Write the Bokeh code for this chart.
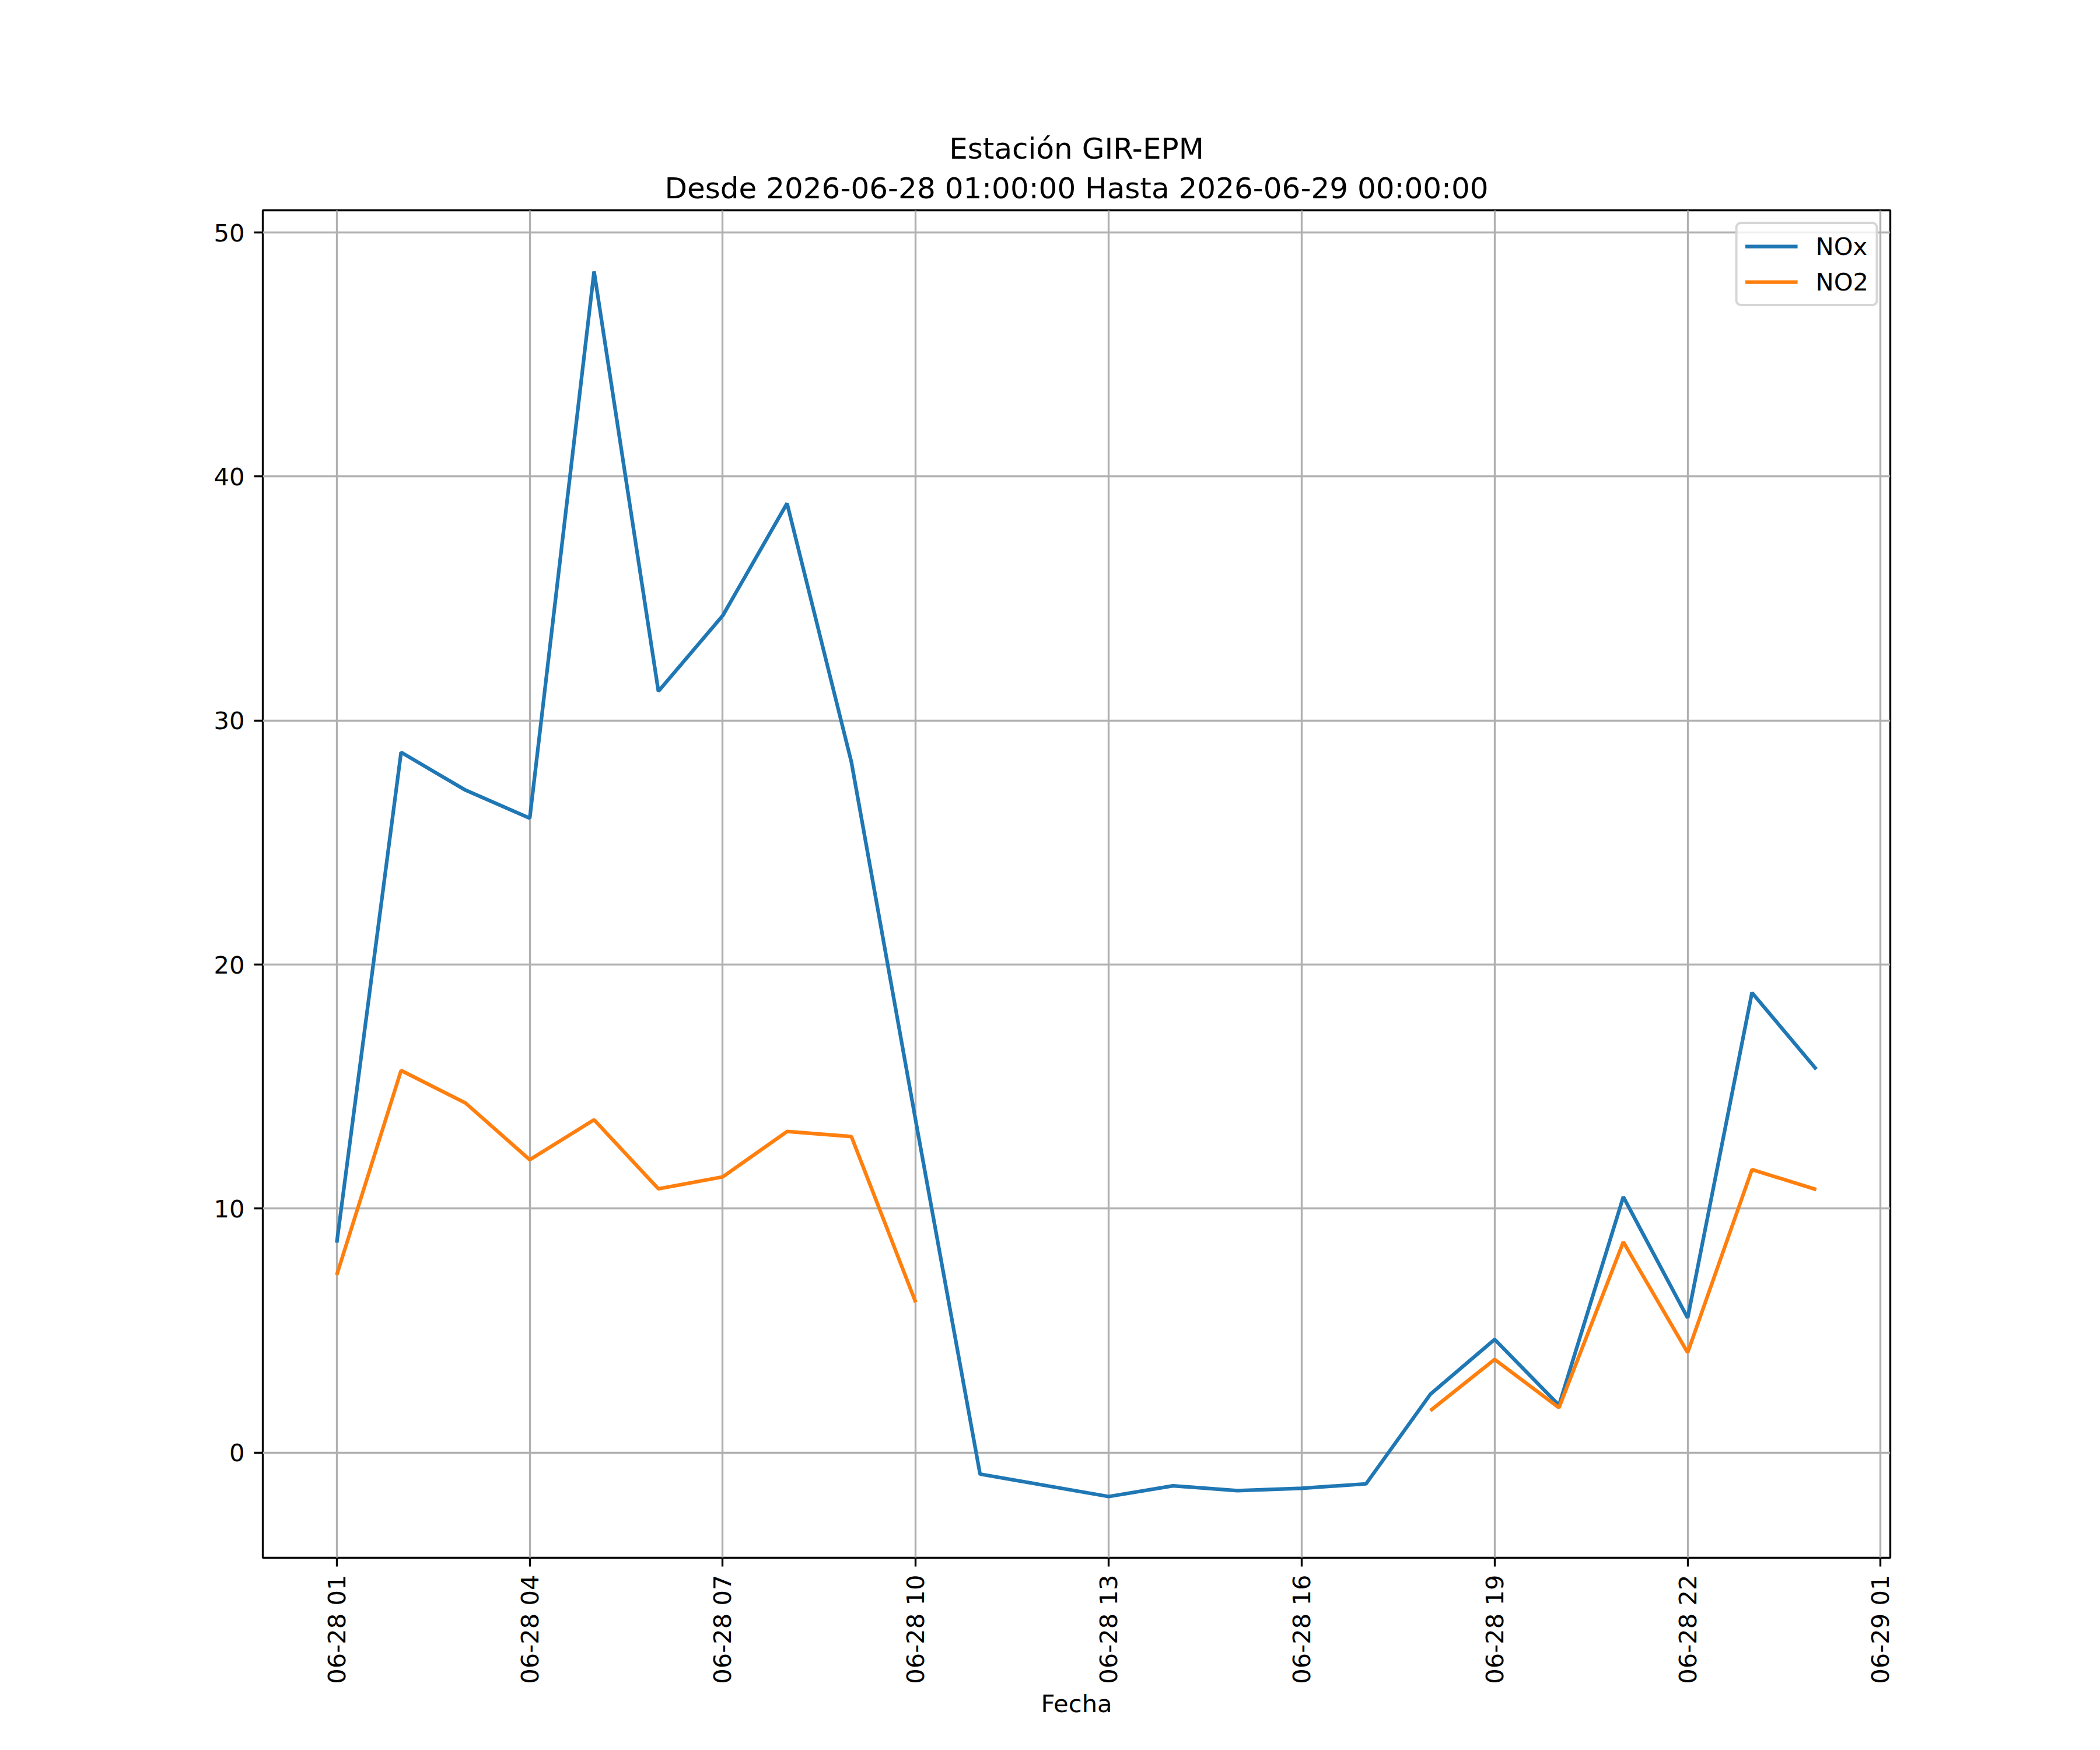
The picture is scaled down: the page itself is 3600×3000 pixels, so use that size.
import numpy as np
import pandas as pd
from bokeh.plotting import figure
from bokeh.models import (Range1d, FixedTicker, SingleIntervalTicker, DatetimeTickFormatter,
                          Title, Legend, LegendItem, ColumnDataSource)
from bokeh.embed import file_html
from bokeh.resources import INLINE

# ---------------- data ----------------
station = "GIR-EPM"
start = "2026-06-28 01:00:00"
end = "2026-06-29 00:00:00"
nox = [8.6, 28.7, 27.15, 26.0, 48.4, 31.2, 34.3, 38.9, 28.3, 13.6,
       -0.88, -1.34, -1.8, -1.36, -1.56, -1.46, -1.28,
       2.39, 4.64, 1.94, 10.48, 5.52, 18.85, 15.71]
no2 = [7.28, 15.66, 14.33, 12.0, 13.64, 10.81, 11.3, 13.16, 12.95, 6.16,
       np.nan, np.nan, np.nan, np.nan, np.nan, np.nan, np.nan,
       1.72, 3.82, 1.84, 8.63, 4.1, 11.6, 10.78]
series_names = ["NOx", "NO2"]
tick_start = "2026-06-28 01:00"
tick_end = "2026-06-29 01:00"
tick_step = "3h"
y_tick_step = 10
x_label = "Fecha"

FONT = "DejaVu Sans"
TICK_FS = "41.67px"
TITLE_FS = "50px"
C_NOX = "#1f77b4"
C_NO2 = "#ff7f0e"
LW = 6.25
GRID_W = 3.33

times = pd.date_range(start, end, freq="h")
x_ms = times.asi8 / 1e6
ticks_ms = pd.date_range(tick_start, tick_end, freq=tick_step).asi8 / 1e6

src = ColumnDataSource(dict(x=x_ms, nox=nox, no2=no2))

# matplotlib-like 5% margins
xmin, xmax = x_ms.min(), x_ms.max()
xm = 0.05 * (xmax - xmin)
allv = np.array(nox + [v for v in no2 if not np.isnan(v)])
ymin, ymax = allv.min(), allv.max()
ym = 0.05 * (ymax - ymin)

p = figure(x_axis_type="datetime",
           frame_width=2790, frame_height=2310,
           min_border_left=450, min_border_right=352,
           min_border_top=360, min_border_bottom=322,
           x_range=Range1d(xmin - xm, xmax + xm),
           y_range=Range1d(ymin - ym, ymax + ym),
           output_backend="svg", toolbar_location=None, title=None)

p.background_fill_color = "white"
p.border_fill_color = "white"
p.outline_line_color = "black"
p.outline_line_width = GRID_W
p.outline_line_alpha = 1.0

r1 = p.line("x", "nox", source=src, line_color=C_NOX, line_width=LW)
r2 = p.line("x", "no2", source=src, line_color=C_NO2, line_width=LW)

# titles
t2 = Title(text=f"Desde {start} Hasta {end}", align="center",
           text_font=FONT, text_font_size=TITLE_FS, text_font_style="normal",
           text_color="black", standoff=17)
p.add_layout(t2, "above")
t1 = Title(text=f"Estación {station}", align="center",
           text_font=FONT, text_font_size=TITLE_FS, text_font_style="normal",
           text_color="black", standoff=0)
p.add_layout(t1, "above")

# axes
p.xaxis.ticker = FixedTicker(ticks=list(ticks_ms))
fmt = "%m-%d %H"
p.xaxis.formatter = DatetimeTickFormatter(
    microseconds=fmt, milliseconds=fmt, seconds=fmt, minsec=fmt, minutes=fmt,
    hourmin=fmt, hours=fmt, days=fmt, months=fmt, years=fmt)
p.xaxis.major_label_orientation = np.pi / 2
p.xaxis.axis_label = x_label
p.xaxis.axis_label_text_font = FONT
p.xaxis.axis_label_text_font_size = TICK_FS
p.xaxis.axis_label_text_font_style = "normal"
p.xaxis.axis_label_text_color = "black"
p.xaxis.axis_label_standoff = 6

p.yaxis.ticker = SingleIntervalTicker(interval=y_tick_step, num_minor_ticks=0)

for ax in (p.xaxis, p.yaxis):
    ax.axis_line_color = None
    ax.major_tick_line_color = "black"
    ax.major_tick_line_width = GRID_W
    ax.major_tick_out = 15
    ax.major_tick_in = 0
    ax.minor_tick_line_color = None
    ax.major_label_text_font = FONT
    ax.major_label_text_font_size = TICK_FS
    ax.major_label_text_color = "black"
    ax.major_label_standoff = 16
p.xaxis.major_label_standoff = 14

p.xgrid.ticker = FixedTicker(ticks=list(ticks_ms))
for g in (p.xgrid, p.ygrid):
    g.grid_line_color = "#b0b0b0"
    g.grid_line_width = GRID_W
    g.grid_line_alpha = 1.0

legend = Legend(items=[LegendItem(label=series_names[0], renderers=[r1]),
                       LegendItem(label=series_names[1], renderers=[r2])],
                location="top_right")
legend.glyph_width = 90
legend.glyph_height = 50
legend.label_height = 50
legend.label_standoff = 31
legend.padding = 13
legend.spacing = 11
legend.margin = 20
legend.label_text_font = FONT
legend.label_text_font_size = TICK_FS
legend.label_text_color = "black"
legend.border_line_color = "#cccccc"
legend.border_line_width = 4
legend.border_line_alpha = 0.8
legend.background_fill_color = "white"
legend.background_fill_alpha = 0.8
try:
    legend.border_radius = 10
except Exception:
    pass
p.add_layout(legend)

open("out.html", "w").write(file_html(p, INLINE))
